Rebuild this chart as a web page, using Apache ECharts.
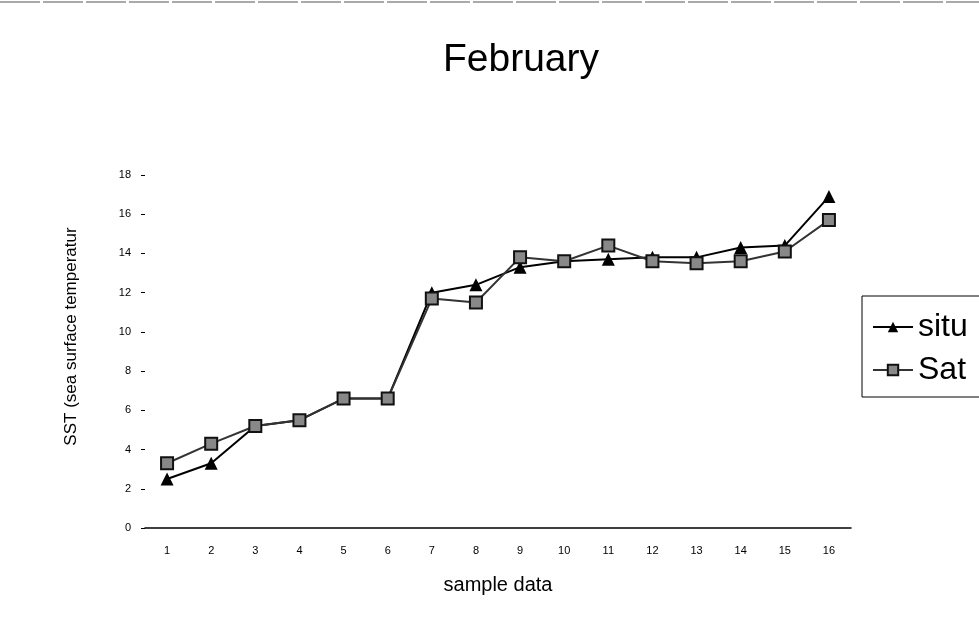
<!DOCTYPE html>
<html><head><meta charset="utf-8">
<script src="https://cdn.jsdelivr.net/npm/echarts@6/dist/echarts.min.js"></script>
<style>html,body{margin:0;padding:0;background:#fff}#c{width:979px;height:632px}</style>
</head><body><div id="c"></div>
<script>
const categories = ['1','2','3','4','5','6','7','8','9','10','11','12','13','14','15','16'];
const situValues = [2.5, 3.3, 5.2, 5.5, 6.6, 6.6, 12.0, 12.4, 13.3, 13.6, 13.7, 13.8, 13.8, 14.3, 14.4, 16.9];
const satValues  = [3.3, 4.3, 5.2, 5.5, 6.6, 6.6, 11.7, 11.5, 13.8, 13.6, 14.4, 13.6, 13.5, 13.6, 14.1, 15.7];
const seriesNames = ['situ', 'Sat'];

const chart = echarts.init(document.getElementById('c'));
chart.setOption({
  animation: false,
  backgroundColor: '#fff',
  title: {
    text: 'February', left: 516, top: 36, textAlign: 'center',
    textStyle: { fontFamily: 'Liberation Sans', fontSize: 39, fontWeight: 'normal', color: '#000' }
  },
  grid: { left: 145, right: 128, top: 175, bottom: 104 },
  legend: {
    left: 862, top: 296, orient: 'vertical',
    borderColor: '#000', borderWidth: 1, padding: [15, 40, 11, 10],
    itemGap: 11, itemWidth: 40, itemHeight: 13,
    textStyle: { fontFamily: 'Liberation Sans', fontSize: 32, color: '#000' },
    data: seriesNames
  },
  xAxis: {
    type: 'category', data: categories, boundaryGap: true,
    name: 'sample data', nameLocation: 'middle', nameGap: 47,
    nameTextStyle: { fontFamily: 'Liberation Sans', fontSize: 20, color: '#000' },
    axisLine: { lineStyle: { color: '#000', width: 1.5 } },
    axisTick: { inside: true, length: 4, lineStyle: { color: '#000' } },
    axisLabel: { fontFamily: 'Liberation Sans', fontSize: 11, color: '#000', margin: 17 }
  },
  yAxis: {
    type: 'value', min: 0, max: 18, interval: 2,
    name: 'SST (sea surface temperatur', nameLocation: 'middle', nameGap: 65,
    nameTextStyle: { fontFamily: 'Liberation Sans', fontSize: 17, color: '#000', padding: [0, 0, 0, 30] },
    axisLine: { show: false },
    axisTick: { show: true, length: 4, lineStyle: { color: '#000' } },
    splitLine: { show: false },
    axisLabel: { fontFamily: 'Liberation Sans', fontSize: 11, color: '#000', margin: 14 }
  },
  series: [
    {
      name: seriesNames[0], type: 'line', data: situValues,
      symbol: 'triangle', symbolSize: 13,
      lineStyle: { color: '#000', width: 2 },
      itemStyle: { color: '#000' }
    },
    {
      name: seriesNames[1], type: 'line', data: satValues,
      symbol: 'rect', symbolSize: 12,
      lineStyle: { color: '#333', width: 2 },
      itemStyle: { color: '#888', borderColor: '#111', borderWidth: 2 }
    }
  ],
  graphic: [
    { type: 'line', shape: { x1: 0, y1: 2, x2: 979, y2: 2 }, style: { stroke: '#555', lineWidth: 1, lineDash: [40, 3] } }
  ]
});
</script>
</body></html>
